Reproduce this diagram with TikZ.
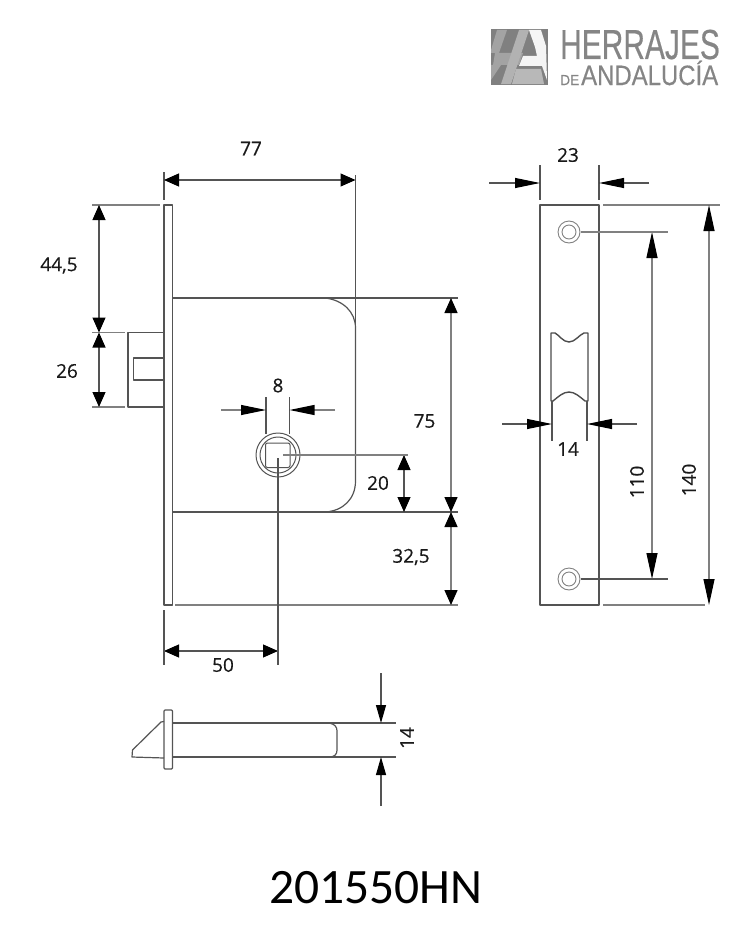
\documentclass[tikz,border=0pt]{standalone}
\usepackage{fontspec}
\setmainfont[FakeBold=0.45]{Open Sans}
\newfontfamily\labelfont[FakeBold=0.45]{Open Sans}
\newfontfamily\logofont[FakeBold=0.5]{Liberation Sans}
\newfontfamily\titlefont{Carlito}
\usetikzlibrary{arrows.meta}
\definecolor{inkline}{gray}{0.33}
\definecolor{extline}{gray}{0.5}
\definecolor{logotext}{gray}{0.52}
\tikzset{
  part/.style={draw=inkline,line width=1.2pt,line join=round},
  ext/.style={draw=extline,line width=1.3pt},
  dimA/.style={draw=inkline,line width=1.1pt,{Triangle[length=15pt,width=13pt,black]}-{Triangle[length=15pt,width=13pt,black]}},
  dimB/.style={draw=inkline,line width=1.1pt,-{Triangle[length=25pt,width=10pt,black]}},
  dimV/.style={draw=inkline,line width=1.1pt,{Triangle[length=26pt,width=11pt,black]}-{Triangle[length=26pt,width=11pt,black]}},
  dimC/.style={draw=inkline,line width=1.1pt,-{Triangle[length=18pt,width=10pt,black]}},
  lab/.style={font=\labelfont\fontsize{19}{21}\selectfont,text=black!90,inner sep=0pt},
}
\begin{document}
\begin{tikzpicture}[x=1pt,y=-1pt]
\useasboundingbox (0,0) rectangle (750,950);
% logo
\fill[black!50] (491,29) rectangle (548,85);
\fill[black!36] (497,30) -- (507,30) -- (499,53) -- (491,53) -- (491,50) -- cycle;
\fill[black!36] (491,65) -- (501,65) -- (491,80) -- cycle;
\fill[black!36] (495,53) -- (523,53) -- (519,65) -- (493,65) -- cycle;
\fill[black!30] (519,30) -- (529,30) -- (511,84) -- (501,84) -- cycle;
\fill[black!28] (516,69) -- (541,69) -- (544,84) -- (512,84) -- cycle;
\fill[black!4] (529,30) -- (541,30) -- (546,46) -- (547,80) -- (542,66) -- (519,66) -- (523,56) -- (537,56) -- (535,47) -- cycle;
\node (logoA) [anchor=base west,inner sep=0pt,xscale=0.713,text=logotext,font=\logofont\fontsize{42}{44}\selectfont] at (560,59) {HERRAJES};
\node (logoB) [anchor=base west,inner sep=0pt,text=logotext,font=\logofont\fontsize{14.5}{16}\selectfont,xscale=0.95] at (560,85) {DE};
\node (logoC) [anchor=base west,inner sep=0pt,xscale=0.855,text=logotext,font=\logofont\fontsize{28}{30}\selectfont] at (581,85) {ANDALUCÍA};
% front view
\draw[part] (164,205) rectangle (172.5,605);
\draw[part] (172.5,298) -- (458,298);
\draw[part] (172.5,512) -- (458,512);
\draw[ext] (175,605) -- (458,605);
\draw[part] (325,298) .. controls (343,300) and (355.5,312) .. (355.5,328) -- (355.5,481) .. controls (355.5,499) and (343,511) .. (325,512);
\draw[part] (355.5,175) -- (355.5,328);
\draw[part] (164,172) -- (164,200);
\draw[part] (164,332.5) -- (128,332.5) -- (128,407) -- (164,407);
\draw[part] (164,358) -- (133.5,358) -- (133.5,380) -- (164,380);
\draw[ext] (92,205) -- (160,205);
\draw[ext] (92,332.5) -- (125,332.5);
\draw[ext] (92,407) -- (125,407);
\draw[dimA] (164,180) -- (355.5,180);
\draw[dimA] (99,205) -- (99,332.5);
\draw[dimA] (99,332.5) -- (99,407);
\draw[dimA,draw=extline,line width=1.4pt] (451,298) -- (451,512);
\draw[dimA,draw=extline,line width=1.4pt] (451,512) -- (451,605);
\draw[dimA] (404,455) -- (404,512);
\draw[dimA] (164,651) -- (278,651);
% key hole
\draw[part,line width=1pt] (278,455) circle (22);
\draw[part,line width=1pt] (278,455) circle (18);
\draw[part,line width=1pt,rounded corners=2pt] (265.5,443) rectangle (290,467.5);
\draw[ext] (283,455) -- (408,455);
\draw[part] (278,458) -- (278,665);
\draw[part] (164,610) -- (164,665);
\draw[ext,draw=inkline] (266,397) -- (266,434);
\draw[ext,draw=inkline] (289.5,397) -- (289.5,434);
\draw[dimB,draw=extline] (221,410) -- (266,410);
\draw[dimB,draw=extline] (335,410) -- (289.5,410);
% side view
\draw[part] (540,205) rectangle (599,605);
\draw[part] (540,165) -- (540,200);
\draw[part] (599,165) -- (599,200);
\draw[dimB] (489,183) -- (540,183);
\draw[dimB] (649,183) -- (599,183);
\draw[ext] (603,205) -- (720,205);
\draw[ext] (603,605) -- (705,605);
\draw[dimV,draw=extline] (709,205) -- (709,605);
\draw[dimV,draw=extline] (652,232) -- (652,579);
\draw[ext] (581,232) -- (668,232);
\draw[part] (581,579) -- (668,579);
\foreach \n/\y in {one/232,two/579}{
  \draw[part,line width=.9pt,draw=extline] (569,\y) circle (11);
  \draw[part,line width=.9pt,draw=extline] (569,\y) circle (7);
}
\draw[part,line width=1.4pt,draw=black!70] (551,333) -- (555,333) .. controls (559,335) and (563,342) .. (569,342) .. controls (575,342) and (579,335) .. (584,333) -- (588,333) -- (588,401) -- (585,401) .. controls (580,397) and (575,392) .. (569,392) .. controls (563,392) and (558,397) .. (553,401) -- (551,401) -- cycle;
\draw[part] (552,401) -- (552,441);
\draw[part] (587,401) -- (587,441);
\draw[dimB] (502,424) -- (552,424);
\draw[dimB] (637,424) -- (587,424);
% bolt
\draw[part,rounded corners=1pt] (164,710) rectangle (172.5,769);
\draw[part] (172.5,723) -- (396,723);
\draw[part] (172.5,757) -- (396,757);
\draw[part] (329,723) .. controls (335,724) and (337,727) .. (337,731) -- (337,750) .. controls (337,754) and (335,757) .. (329,757);
\draw[part] (164,721.5) -- (161,722) -- (132.5,750) -- (132,757) -- (164,758);
\draw[dimC] (381,673) -- (381,723);
\draw[dimC] (381,806) -- (381,757);
% labels
\node (t77) [lab] at (251,148.5) {77};
\node (t23) [lab] at (568,155) {23};
\node (t445) [lab] at (59,265.5) {44,5};
\node (t26) [lab] at (67,371) {26};
\node (t8) [lab] at (278,385.5) {8};
\node (t75) [lab] at (424.5,421) {75};
\node (t20) [lab] at (378,483) {20};
\node (t325) [lab] at (411,557) {32,5};
\node (t50) [lab] at (223,665) {50};
\node (t14a) [lab] at (568,449) {14};
\node (t110) [lab,rotate=90] at (637,482) {110};
\node (t140) [lab,rotate=90] at (689,480) {140};
\node (t14b) [lab,rotate=90] at (407,738) {14};
\node (title) [inner sep=0pt,font=\titlefont\fontsize{49.5}{52}\selectfont,text=black] at (376,888) {201550HN};
\end{tikzpicture}
\end{document}
